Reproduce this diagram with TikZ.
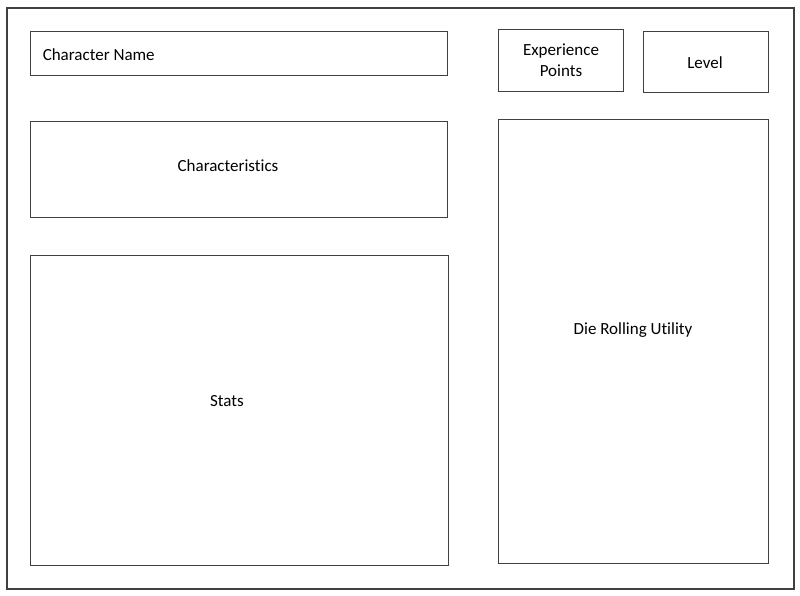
\documentclass[tikz,border=0pt]{standalone}
\usepackage{fontspec}
\setmainfont{Carlito}[Ligatures=NoCommon]
\definecolor{LineClr}{rgb}{0.25,0.25,0.25}

\tikzset{
  panel/.style={draw=LineClr,line width=0.9pt,inner sep=0pt},
  caption/.style={inner sep=0pt,align=center,font=\fontsize{17}{21}\selectfont},
}

\begin{document}
\begin{tikzpicture}[x=1pt,y=-1pt]
\useasboundingbox (0,0) rectangle (800,595);

% outer frame
\draw[LineClr,line width=1.6pt] (7,8) rectangle (794,589);

% left column
\node[panel,minimum width=417pt,minimum height=44pt] (charname) at (238.5,53) {};
\node[panel,minimum width=417pt,minimum height=96pt] (charact) at (238.5,169) {};
\node[panel,minimum width=418pt,minimum height=310pt] (stats) at (239,410) {};

% right column
\node[panel,minimum width=125pt,minimum height=62pt] (xp) at (560.5,60) {};
\node[panel,minimum width=125pt,minimum height=61pt] (level) at (705.5,61.5) {};
\node[panel,minimum width=270pt,minimum height=444pt] (dieroll) at (633,341) {};

% labels
\node[caption,anchor=west] (charnametxt) at ([xshift=13pt,yshift=-1.5pt]charname.west) {Character Name};
\node[caption] (characttxt) at (228,166) {Characteristics};
\node[caption] (statstxt) at (227,401) {Stats};
\node[caption] (xptxt) at (561,60) {Experience\\Points};
\node[caption] (leveltxt) at (705,63) {Level};
\node[caption] (dierolltxt) at (633,330) {Die Rolling Utility};

\end{tikzpicture}
\end{document}
